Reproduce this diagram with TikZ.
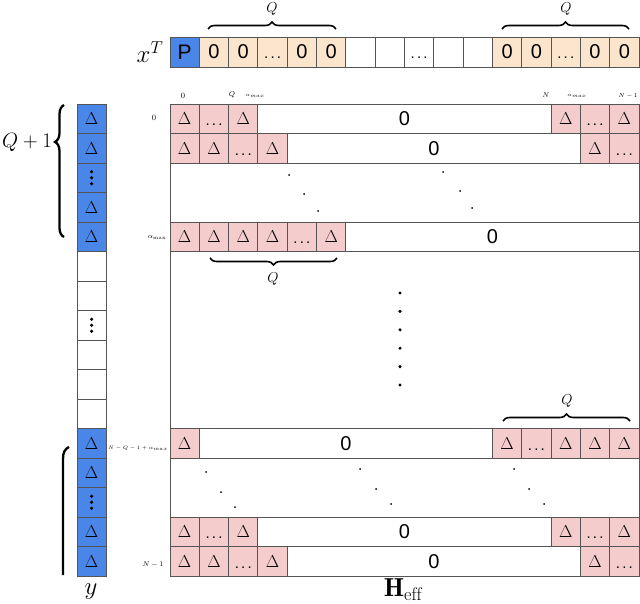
\documentclass[tikz,border=0pt]{standalone}
\usepackage{fontspec}
\setsansfont{Liberation Sans}
\usetikzlibrary{decorations.pathreplacing,calc}
\definecolor{pblue}{HTML}{4A86E8}
\definecolor{ppink}{HTML}{F4CCCC}
\definecolor{porange}{HTML}{FCE5CD}
\definecolor{pgrid}{HTML}{555555}
\newcommand\Dlt{$\Delta$}
\newcommand\Ell{{\sffamily\fontsize{20}{20}\selectfont\vphantom{0}{\fontsize{15}{15}\selectfont.\kern2.2pt.\kern2.2pt.}}}
\begin{document}
\begin{tikzpicture}[x=1pt,y=-1pt,
  cellbox/.style={draw=pgrid, line width=0.9pt, minimum width=29.3125pt, minimum height=29.5pt, inner sep=0pt, outer sep=0pt, anchor=north west},
  dcell/.style={cellbox, fill=ppink, font=\fontsize{17}{17}\selectfont},
  bcell/.style={cellbox, fill=pblue, font=\fontsize{17}{17}\selectfont},
  wcell/.style={cellbox, fill=white},
  ocell/.style={cellbox, fill=porange, minimum height=30pt, font=\sffamily\fontsize{20}{20}\selectfont},
  zbox/.style={cellbox, fill=white, font=\sffamily\fontsize{20}{20}\selectfont},
  bracestyle/.style={decorate, decoration={brace, amplitude=7pt}, line width=1.6pt},
  tinylab/.style={inner sep=0pt, font=\fontsize{6}{6}\selectfont},
  biglab/.style={inner sep=0pt},
  dotmark/.style={fill=black}
]
\useasboundingbox (0,0) rectangle (640,604);
% ---------- top vector x^T ----------
\node[biglab, font=\fontsize{26}{26}\selectfont] (xlab) at (150,52) {$x^T$};
\node[cellbox, fill=pblue, minimum height=30pt, font=\sffamily\fontsize{21}{21}\selectfont] (x0) at (170,37) {P};
\foreach \i/\t in {1/0,2/0,3/\Ell,4/0,5/0,11/0,12/0,13/\Ell,14/0,15/0}
  \node[ocell] (x\i) at ({170+\i*29.3125},37) {\t};
\foreach \i/\t in {6/{},7/{},8/\Ell,9/{},10/{}}
  \node[cellbox, fill=white, minimum height=30pt] (x\i) at ({170+\i*29.3125},37) {\t};
\coordinate (tb1s) at (208,29); \coordinate (tb1e) at (336,29);
\coordinate (tb2s) at (502,29); \coordinate (tb2e) at (629,29);
\draw[bracestyle] (tb1s) -- (tb1e);
\draw[bracestyle] (tb2s) -- (tb2e);
\node[biglab, font=\fontsize{15}{15}\selectfont] (tq1) at (272,9) {$Q$};
\node[biglab, font=\fontsize{15}{15}\selectfont] (tq2) at (566,9) {$Q$};
% ---------- matrix frame ----------
\node[draw=pgrid, line width=0.9pt, minimum width=469pt, minimum height=472pt, inner sep=0pt, anchor=north west] (H) at (170,104) {};
% row 0
\foreach \i/\t in {0/\Dlt,1/\Ell,2/\Dlt,13/\Dlt,14/\Ell,15/\Dlt}
  \node[dcell] (ra\i) at ({170+\i*29.3125},104) {\t};
\node[zbox, minimum width={10*29.3125pt}] (raz) at ({170+3*29.3125},104) {0};
% row 1
\foreach \i/\t in {0/\Dlt,1/\Dlt,2/\Ell,3/\Dlt,14/\Dlt,15/\Ell}
  \node[dcell] (rb\i) at ({170+\i*29.3125},133.5) {\t};
\node[zbox, minimum width={10*29.3125pt}] (rbz) at ({170+4*29.3125},133.5) {0};
% row alpha_max
\foreach \i/\t in {0/\Dlt,1/\Dlt,2/\Dlt,3/\Dlt,4/\Ell,5/\Dlt}
  \node[dcell] (rc\i) at ({170+\i*29.3125},222) {\t};
\node[zbox, minimum width={10*29.3125pt}] (rcz) at ({170+6*29.3125},222) {0};
% row N-Q-1+alpha_max
\foreach \i/\t in {0/\Dlt,11/\Dlt,12/\Ell,13/\Dlt,14/\Dlt,15/\Dlt}
  \node[dcell] (rd\i) at ({170+\i*29.3125},428.5) {\t};
\node[zbox, minimum width={10*29.3125pt}] (rdz) at ({170+1*29.3125},428.5) {0};
% row N-2
\foreach \i/\t in {0/\Dlt,1/\Ell,2/\Dlt,13/\Dlt,14/\Ell,15/\Dlt}
  \node[dcell] (re\i) at ({170+\i*29.3125},517) {\t};
\node[zbox, minimum width={10*29.3125pt}] (rez) at ({170+3*29.3125},517) {0};
% row N-1
\foreach \i/\t in {0/\Dlt,1/\Dlt,2/\Ell,3/\Dlt,14/\Dlt,15/\Ell}
  \node[dcell] (rf\i) at ({170+\i*29.3125},546.5) {\t};
\node[zbox, minimum width={10*29.3125pt}] (rfz) at ({170+4*29.3125},546.5) {0};
% braces in matrix
\coordinate (mb1s) at (337,258); \coordinate (mb1e) at (210,258);
\draw[bracestyle] (mb1s) -- (mb1e);
\node[biglab, font=\fontsize{15}{15}\selectfont] (mq1) at (273,279) {$Q$};
\coordinate (mb2s) at (503,421); \coordinate (mb2e) at (630,421);
\draw[bracestyle] (mb2s) -- (mb2e);
\node[biglab, font=\fontsize{15}{15}\selectfont] (mq2) at (567,401) {$Q$};
% diagonal dots
\foreach \p in {(289,175),(304,194),(318,211),(443,172),(460,191),(472,208),
                (206,472),(221,492),(235,507),(360,469),(376,489),(391,504),
                (514,469),(529,489),(544,504)}
  \fill[dotmark] \p circle (1);
\foreach \yy in {293,311.4,329.8,348.2,366.6,385}
  \fill[dotmark] (400,\yy) circle (1.7);
% column and row labels
\node[tinylab, font=\fontsize{8.5}{8.5}\selectfont] (c0) at (183,96) {$0$};
\node[tinylab, font=\fontsize{7}{7}\selectfont] (cq) at (232,95) {$Q$};
\node[tinylab, font=\fontsize{5}{5}\selectfont] (ca) at (255,96) {$\alpha_{max}$};
\node[tinylab, font=\fontsize{7}{7}\selectfont] (cn) at (546,95) {$N$};
\node[tinylab, font=\fontsize{5}{5}\selectfont] (can) at (577,96) {$\alpha_{max}$};
\node[tinylab, font=\fontsize{6}{6}\selectfont] (cn1) at (628,96) {$N-1$};
\node[tinylab, font=\fontsize{8.5}{8.5}\selectfont] (l0) at (154,118) {$0$};
\node[tinylab, font=\fontsize{7}{7}\selectfont] (la) at (157,238) {$\alpha_{\max}$};
\node[tinylab, font=\fontsize{5.5}{5.5}\selectfont, anchor=east] (lnq) at (168,448) {$N-Q-1+\alpha_{max}$};
\node[tinylab, font=\fontsize{7}{7}\selectfont] (ln1) at (153,565) {$N-1$};
% ---------- y vector ----------
\foreach \j/\t in {0/\Dlt,1/\Dlt,2/{},3/\Dlt,4/\Dlt,11/\Dlt,12/\Dlt,13/{},14/\Dlt,15/\Dlt}
  \node[bcell] (y\j) at (77,{104+\j*29.5}) {\t};
\foreach \j in {5,...,10}
  \node[wcell] (y\j) at (77,{104+\j*29.5}) {};
\foreach \j in {2,7,13}
  \foreach \d in {-6,0,6}
    \fill[dotmark] ($(y\j.center)+(0,\d)$) circle (1.8);
\node[biglab, font=\fontsize{27}{27}\selectfont] (ylab) at (91,592) {$y$};
\node[biglab, font=\fontsize{26}{26}\selectfont] (hlab) at (403,590) {$\mathbf{H}_{\mathrm{eff}}$};
% left brace Q+1
\coordinate (lbs) at (64,237); \coordinate (lbe) at (64,105);
\draw[decorate, decoration={brace, amplitude=9pt, aspect=0.72}, line width=2.3pt] (lbs) -- (lbe);
\node[biglab, font=\fontsize{20}{20}\selectfont] (qlab) at (27,142) {$Q+1$};
% partial brace bottom
\draw[line width=2.3pt] (69,447) .. controls (65,449) and (63,452) .. (63,459) -- (63,575);
\end{tikzpicture}
\end{document}
